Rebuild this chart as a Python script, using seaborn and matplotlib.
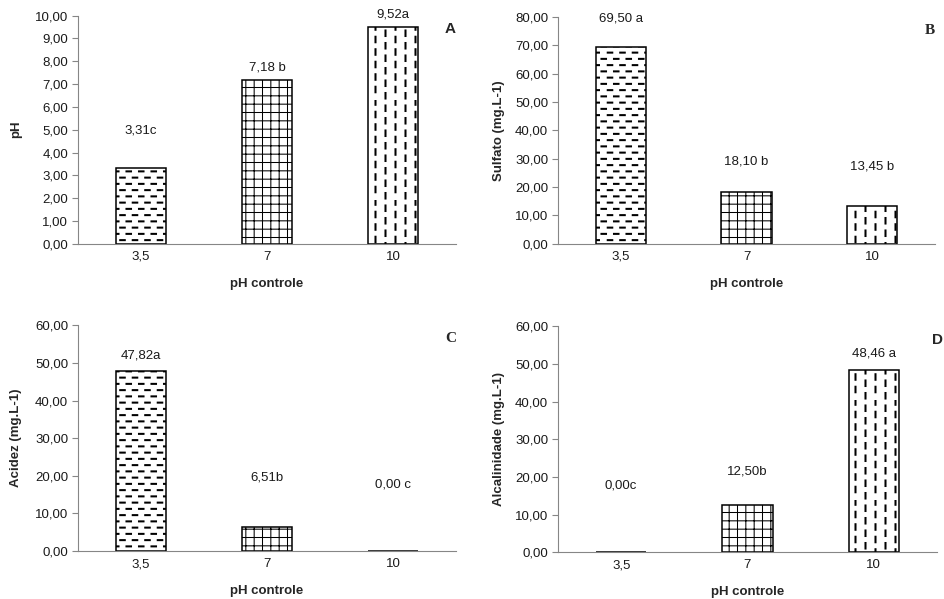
import warnings
import numpy as np
import pandas as pd
import seaborn as sns
import matplotlib
matplotlib.use("Agg")
import matplotlib.pyplot as plt
import matplotlib.hatch as mhatch
from matplotlib.path import Path
from matplotlib.ticker import FuncFormatter, MultipleLocator, FixedLocator

warnings.filterwarnings("ignore")

# dados
ph_controle = ["3,5", "7", "10"]
ph_vals = [3.31, 7.18, 9.52]
ph_rot = ["3,31c", "7,18 b", "9,52a"]
sulfato_vals = [69.50, 18.10, 13.45]
sulfato_rot = ["69,50 a", "18,10 b", "13,45 b"]
acidez_vals = [47.82, 6.51, 0.00]
acidez_rot = ["47,82a", "6,51b", "0,00 c"]
alcal_vals = [0.00, 12.50, 48.46]
alcal_rot = ["0,00c", "12,50b", "48,46 a"]


# hachuras tracejadas (estilo Excel) - 'h' horizontal, 'v' vertical
# cada traco e desenhado duas vezes, 1px ao lado, para ficar grosso
class DashHatch(mhatch.HatchPatternBase):
    def __init__(self, hatch, density):
        self.segs = []
        px = 0.01
        if "h" in hatch:
            rows, per_row, dash = 16, 8, 0.055
            for i in range(rows):
                y = (i + 0.5) / rows
                off = 0.5 / per_row if i % 2 else 0.0
                for j in range(per_row):
                    x0 = j / per_row + off + 0.01
                    for d in (0, px):
                        self.segs.append(((x0, y + d), (x0 + dash, y + d)))
        if "v" in hatch:
            cols, per_col, dash = 10, 8, 0.065
            for i in range(cols):
                x = (i + 0.5) / cols
                off = 0.5 / per_col if i % 2 else 0.0
                for j in range(per_col):
                    y0 = j / per_col + off + 0.01
                    for d in (0, px):
                        self.segs.append(((x + d, y0), (x + d, y0 + dash)))
        self.num_lines = len(self.segs)
        self.num_vertices = 2 * len(self.segs)

    def set_vertices_and_codes(self, vertices, codes):
        for i, (p0, p1) in enumerate(self.segs):
            vertices[2 * i] = p0
            vertices[2 * i + 1] = p1
            codes[2 * i] = Path.MOVETO
            codes[2 * i + 1] = Path.LINETO


mhatch._hatch_types.append(DashHatch)

sns.set_style("white")
plt.rcParams["font.family"] = ["Liberation Sans", "DejaVu Sans"]
plt.rcParams["hatch.linewidth"] = 0.75
plt.rcParams["hatch.color"] = "black"
plt.rcParams["path.simplify"] = False  # senao os tracos da hachura se juntam

cinza = "#868686"
hachuras = ["h", "++", "v"]
fs = 9.5

paineis = [
    (ph_vals, ph_rot, "pH", 10, 1, "A", "sans", [0.0825, 0.593, 0.400, 0.381], [27, 9, 9], -0.148, 1.0),
    (sulfato_vals, sulfato_rot, "Sulfato (mg.L-1)", 80, 10, "B", "serif", [0.5905, 0.593, 0.399, 0.379], [20, 22, 28], -0.14, 1.0),
    (acidez_vals, acidez_rot, "Acidez (mg.L-1)", 60, 10, "C", "serif", [0.0825, 0.080, 0.400, 0.377], [11, 35, 48], -0.148, 1.0),
    (alcal_vals, alcal_rot, "Alcalinidade (mg.L-1)", 60, 10, "D", "sans", [0.5905, 0.078, 0.401, 0.377], [48, 24, 12], -0.14, 1.016),
]

fig = plt.figure(figsize=(9.45, 5.99), dpi=100)

for vals, rots, ylab, ymax, passo, letra, fam, pos, offs, ylx, lx in paineis:
    ax = fig.add_axes(pos)
    df = pd.DataFrame({"ph": ph_controle, "v": vals})
    sns.barplot(data=df, x="ph", y="v", order=ph_controle, color="white",
                edgecolor="black", linewidth=1.1, width=0.4, ax=ax)
    for p, h in zip(ax.patches, hachuras):
        p.set_hatch(h)
        p.set_facecolor("white")
        p.set_edgecolor("black")

    for i, (v, r) in enumerate(zip(vals, rots)):
        ax.annotate(r, (i, v), xytext=(0, offs[i]), textcoords="offset points",
                    ha="center", va="center", fontsize=fs, color="#1a1a1a")

    ax.set_xlim(-0.5, 2.5)
    ax.set_ylim(0, ymax)
    ax.yaxis.set_major_locator(MultipleLocator(passo))
    ax.yaxis.set_major_formatter(FuncFormatter(lambda x, _: f"{x:.2f}".replace(".", ",")))
    ax.xaxis.set_minor_locator(FixedLocator([-0.5, 0.5, 1.5, 2.5]))
    ax.tick_params(axis="x", which="major", length=0, labelsize=fs, pad=5, labelcolor="#1a1a1a")
    ax.tick_params(axis="x", which="minor", length=4, color=cinza, direction="out", width=0.8)
    ax.tick_params(axis="y", length=4, color=cinza, direction="out", width=0.8,
                   labelsize=fs, pad=3, labelcolor="#1a1a1a", left=True)
    sns.despine(ax=ax)
    for s in ["left", "bottom"]:
        ax.spines[s].set_color(cinza)
        ax.spines[s].set_linewidth(0.8)

    ax.set_xlabel("pH controle", fontsize=fs, fontweight="bold")
    ax.xaxis.set_label_coords(0.5, -0.15)
    ax.set_ylabel(ylab, fontsize=fs, fontweight="bold")
    ax.yaxis.set_label_coords(ylx, 0.5)

    if fam == "serif":
        ax.text(lx, 0.97, letra, transform=ax.transAxes, ha="right", va="top",
                fontsize=11, fontweight="bold", family=["Liberation Serif", "DejaVu Serif"])
    else:
        ax.text(lx, 0.97, letra, transform=ax.transAxes, ha="right", va="top",
                fontsize=11, fontweight="bold")

fig.savefig("out.png", dpi=100)
